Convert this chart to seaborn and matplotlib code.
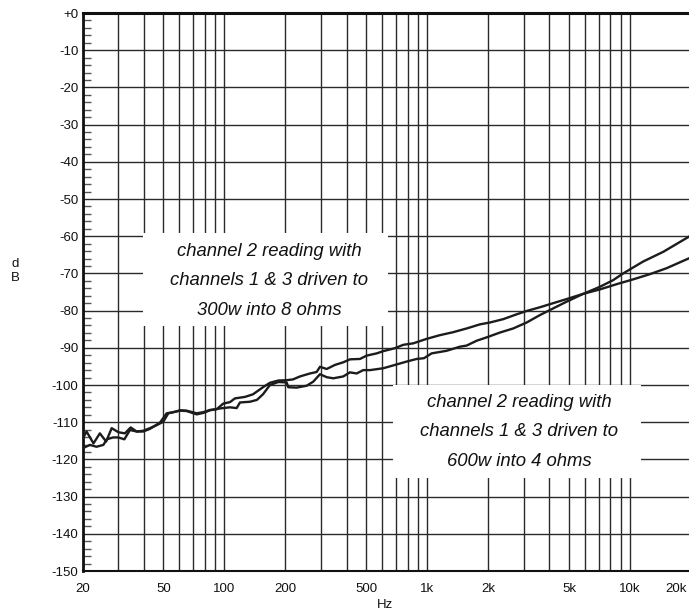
import matplotlib
matplotlib.use("Agg")
import matplotlib.pyplot as plt
from matplotlib.patches import Rectangle
from matplotlib.ticker import FixedLocator, FixedFormatter, NullFormatter
from matplotlib.transforms import ScaledTranslation
import numpy as np
import pandas as pd
import seaborn as sns

# Crosstalk into channel 2, 300 W / 8 ohm drive
freq_8ohm = [20, 20.9, 22.6, 24.3, 26.1, 27.8, 30.0, 32.3, 34.5, 36.9,
             39.8, 42.9, 46.3, 49.9, 52.9, 57.0, 60.4, 65.1, 73.0, 78.7,
             84.9, 91.6, 98.7, 106.5, 112.7, 126.3, 138.3, 154.9, 167.7, 184.3,
             202.7, 217.8, 235.8, 264.2, 285.0, 296.0, 319.4, 350.8, 385.5, 416.0,
             466.2, 502.8, 563.4, 607.2, 693.4, 761.8, 853.6, 993.6, 1156, 1344,
             1565, 1820, 2039, 2371, 2761, 3094, 3598, 4184, 4871, 5880,
             7111, 8593, 10375, 12542, 15166, 20000]
db_8ohm = [-114.5, -112.5, -115.7, -113.0, -115.2, -111.6, -112.7, -113.0, -111.4, -112.5,
           -112.3, -111.6, -110.8, -109.9, -107.6, -107.2, -106.8, -106.9, -107.6, -107.3,
           -106.7, -106.5, -105.0, -104.6, -103.6, -103.2, -102.5, -100.6, -99.4, -98.8,
           -98.7, -98.5, -97.7, -96.9, -96.5, -95.1, -95.7, -94.6, -93.9, -93.1,
           -93.0, -92.1, -91.5, -90.9, -90.1, -89.2, -88.8, -87.6, -86.6, -85.8,
           -84.8, -83.7, -83.2, -82.3, -81.0, -80.1, -79.1, -78.0, -76.9, -75.5,
           -74.3, -72.9, -71.6, -70.2, -68.6, -65.7]

# Crosstalk into channel 2, 600 W / 4 ohm drive
freq_4ohm = [20, 21.7, 23.4, 25.3, 26.3, 28.2, 30.0, 32.1, 34.2, 36.9,
             39.8, 42.9, 48.1, 51.9, 55.0, 60.4, 65.1, 73.0, 78.7, 84.9,
             95.1, 106.5, 114.9, 119.3, 133.7, 144.7, 154.9, 167.7, 184.3, 202.7,
             206.5, 227.1, 254.4, 274.2, 296.0, 319.4, 344.2, 385.5, 416.0, 448.8,
             483.8, 522.2, 607.2, 693.4, 791.8, 887.2, 963.8, 1052, 1247, 1451,
             1565, 1753, 1964, 2284, 2656, 3094, 3598, 4184, 4871, 5880,
             7111, 8268, 9264, 11624, 14591, 20000]
db_4ohm = [-117.0, -116.1, -116.6, -116.1, -114.6, -114.1, -114.1, -114.6, -112.1, -112.5,
           -112.5, -111.8, -110.1, -107.6, -107.4, -106.9, -107.0, -107.9, -107.5, -106.8,
           -106.3, -106.0, -106.2, -104.7, -104.5, -104.0, -102.5, -100.0, -99.2, -99.3,
           -100.6, -100.7, -100.2, -99.1, -97.1, -97.9, -98.2, -97.7, -96.6, -96.9,
           -96.0, -96.0, -95.5, -94.6, -93.7, -93.0, -92.8, -91.5, -90.8, -89.7,
           -89.4, -88.1, -87.2, -85.9, -84.8, -83.2, -81.2, -79.4, -77.6, -75.5,
           -73.6, -71.8, -70.0, -66.8, -64.2, -59.8]

x_tick_vals = [20, 50, 100, 200, 500, 1000, 2000, 5000, 10000, 20000]
x_tick_labels = ["20", "50", "100", "200", "500", "1k", "2k", "5k", "10k", "20k"]
y_tick_vals = list(range(0, -151, -10))
y_tick_labels = ["+0"] + [str(v) for v in y_tick_vals[1:]]

label_8ohm = "channel 2 reading with\nchannels 1 & 3 driven to\n300w into 8 ohms"
label_4ohm = "channel 2 reading with\nchannels 1 & 3 driven to\n600w into 4 ohms"

df = pd.concat([
    pd.DataFrame({"Hz": freq_8ohm, "dB": db_8ohm, "load": "8 ohms"}),
    pd.DataFrame({"Hz": freq_4ohm, "dB": db_4ohm, "load": "4 ohms"}),
])

sns.set_theme(style="white")
plt.rcParams["font.family"] = ["Liberation Sans", "DejaVu Sans"]

fig = plt.figure(figsize=(6.89, 6.16), dpi=100)
ax = fig.add_axes([82.7 / 689, 1 - 571 / 616, (691 - 82.7) / 689, (571 - 13) / 616])

ink = "#1c1c1c"
sns.lineplot(data=df, x="Hz", y="dB", hue="load", units="load", estimator=None,
             palette={"8 ohms": ink, "4 ohms": ink}, linewidth=1.7,
             legend=False, ax=ax, zorder=3)

ax.set_xscale("log")
ax.set_xlim(20, 20000)
ax.set_ylim(-150, 0)

# grid: every 1..9 x decade vertically, every 10 dB horizontally
minor_x = [m * 10 ** e for e in range(1, 5) for m in range(1, 10)
           if 20 <= m * 10 ** e <= 20000 and m * 10 ** e not in x_tick_vals]
ax.xaxis.set_major_locator(FixedLocator(x_tick_vals))
ax.xaxis.set_major_formatter(FixedFormatter(x_tick_labels))
ax.xaxis.set_minor_locator(FixedLocator(minor_x))
ax.xaxis.set_minor_formatter(NullFormatter())
ax.yaxis.set_major_locator(FixedLocator(y_tick_vals))
ax.yaxis.set_major_formatter(FixedFormatter(y_tick_labels))
ax.yaxis.set_minor_locator(FixedLocator(list(range(-148, 0, 2))))

ax.set_axisbelow(True)
ax.grid(True, which="major", axis="both", color="#2a2a2a", linewidth=1.0)
ax.grid(True, which="minor", axis="x", color="#2a2a2a", linewidth=1.0)
ax.grid(False, which="minor", axis="y")

ax.tick_params(axis="x", which="both", bottom=True, length=0, pad=9,
               labelsize=9.5, colors="#111")
ax.tick_params(axis="y", which="major", left=True, direction="in", length=0, pad=3,
               labelsize=9.5, colors="#111")
ax.tick_params(axis="y", which="minor", left=True, direction="in", length=5.5,
               width=1.0, color="#555")

# last frequency label sits against the right edge
fig.canvas.draw()
last = ax.get_xticklabels()[-1]
last.set_horizontalalignment("right")
last.set_transform(last.get_transform() + ScaledTranslation(-4 / 100, 0, fig.dpi_scale_trans))

for side, lw in (("top", 2.2), ("left", 2.0), ("bottom", 1.5), ("right", 1.5)):
    ax.spines[side].set_visible(True)
    ax.spines[side].set_color("#111")
    ax.spines[side].set_linewidth(lw)

ax.set_xlabel("")
ax.set_ylabel("")

# white panels behind the annotations
ax.add_patch(Rectangle((39.6, -84.1), 640 - 39.6, 25.0, facecolor="white",
                       edgecolor="none", zorder=1.5))
ax.add_patch(Rectangle((678, -125.0), 11285 - 678, 25.0, facecolor="white",
                       edgecolor="none", zorder=1.5))

ax.text(166, -72.0, label_8ohm, ha="center", va="center", style="italic",
        fontsize=13.3, linespacing=1.95, color="#111", zorder=4)
ax.text(2832, -112.6, label_4ohm, ha="center", va="center", style="italic",
        fontsize=13.3, linespacing=1.95, color="#111", zorder=4)

fig.text(15 / 689, 1 - 271 / 616, "d\nB", ha="center", va="center",
         fontsize=9.5, linespacing=1.3, color="#111")
fig.text(385 / 689, 1 - 605 / 616, "Hz", ha="center", va="center",
         fontsize=9.5, color="#111")

fig.savefig("out.png", dpi=100)
